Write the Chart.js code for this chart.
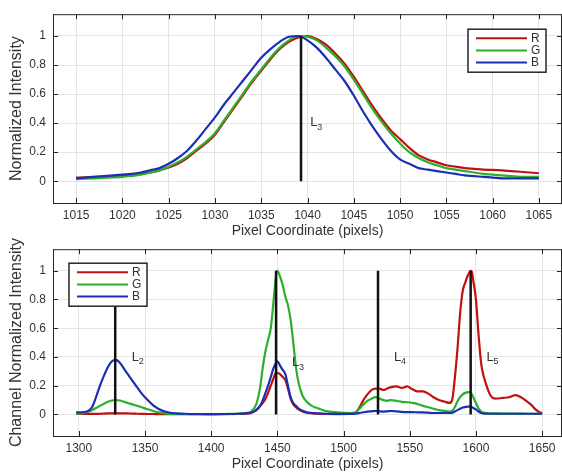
<!DOCTYPE html>
<html>
<head>
<meta charset="utf-8">
<script src="https://cdn.jsdelivr.net/npm/chart.js@4/dist/chart.umd.min.js"></script>
<style>
  html, body { margin: 0; padding: 0; background: #fff; }
  #wrap { position: relative; width: 562px; height: 473px; overflow: hidden; }
  #topChart { position: absolute; left: 0; top: 0; }
  #bottomChart { position: absolute; left: 0; top: 235px; }
</style>
</head>
<body>
<div id="wrap">
  <canvas id="topChart" width="562" height="240"></canvas>
  <canvas id="bottomChart" width="562" height="238"></canvas>
</div>
<script>
// ---- top plot data (single line profile around pixel 1039) ----
const topX = [1015,1016,1017,1018,1019,1020,1021,1022,1023,1024,1025,1026,1027,1028,1029,1030,1031,1032,1033,1034,1035,1036,1037,1038,1039,1040,1041,1042,1043,1044,1045,1046,1047,1048,1049,1050,1051,1052,1053,1054,1055,1056,1057,1058,1059,1060,1061,1062,1063,1064,1065];
const topR = [0.025,0.027,0.03,0.032,0.035,0.04,0.045,0.05,0.06,0.075,0.095,0.12,0.16,0.21,0.26,0.32,0.41,0.5,0.59,0.68,0.76,0.84,0.91,0.96,0.99,1.0,0.98,0.94,0.88,0.81,0.72,0.62,0.52,0.43,0.35,0.29,0.23,0.18,0.15,0.13,0.11,0.1,0.09,0.085,0.08,0.078,0.075,0.07,0.065,0.06,0.055];
const topG = [0.015,0.017,0.02,0.023,0.026,0.03,0.037,0.045,0.058,0.075,0.1,0.13,0.17,0.22,0.27,0.33,0.42,0.51,0.6,0.69,0.77,0.85,0.92,0.97,1.0,0.995,0.97,0.92,0.86,0.79,0.7,0.6,0.5,0.41,0.33,0.26,0.2,0.16,0.13,0.11,0.09,0.08,0.07,0.06,0.05,0.045,0.04,0.035,0.03,0.03,0.03];
const topB = [0.02,0.025,0.03,0.035,0.04,0.045,0.05,0.06,0.075,0.09,0.12,0.16,0.21,0.28,0.36,0.44,0.53,0.61,0.69,0.77,0.85,0.91,0.96,0.995,1.0,0.97,0.92,0.85,0.77,0.69,0.59,0.48,0.38,0.29,0.21,0.15,0.12,0.09,0.08,0.07,0.06,0.05,0.04,0.035,0.03,0.025,0.02,0.02,0.02,0.02,0.02];
const topMarkX = [1039.3];
const topMarkNames = ['3'];
const topLabelX = [1040.3];
const topLabelY = [0.405];
const topXTicks = [1015,1020,1025,1030,1035,1040,1045,1050,1055,1060,1065];

// ---- bottom plot data (channel normalized, four lines) ----
const botX = [1298,1302,1306,1310,1313,1316,1319,1322,1325,1328,1331,1334,1337,1340,1344,1348,1352,1356,1360,1365,1370,1380,1390,1400,1410,1420,1426,1430,1434,1437,1439,1441,1443,1445,1447,1449,1450,1452,1454,1456,1458,1460,1462,1464,1466,1469,1472,1476,1480,1486,1495,1505,1509,1512,1515,1518,1521,1524,1527,1530,1533,1536,1540,1544,1548,1552,1556,1560,1564,1568,1572,1576,1580,1582,1584,1586,1588,1590,1592,1594,1596,1597,1598,1600,1602,1604,1606,1608,1610,1612,1615,1620,1625,1630,1634,1638,1642,1645,1648,1650];
const botR = [0.005,0.003,0.003,0.004,0.004,0.005,0.006,0.007,0.008,0.008,0.008,0.007,0.007,0.006,0.005,0.004,0.003,0.003,0.002,0.002,0.002,0.002,0.002,0.002,0.002,0.003,0.005,0.01,0.03,0.06,0.08,0.11,0.15,0.2,0.25,0.29,0.29,0.28,0.26,0.24,0.18,0.11,0.07,0.05,0.035,0.02,0.012,0.008,0.005,0.003,0.002,0.003,0.01,0.05,0.1,0.14,0.17,0.18,0.18,0.17,0.18,0.19,0.195,0.185,0.195,0.175,0.16,0.16,0.145,0.12,0.1,0.09,0.08,0.1,0.25,0.45,0.7,0.86,0.92,0.97,1.0,0.99,0.93,0.8,0.55,0.35,0.26,0.2,0.15,0.12,0.11,0.115,0.12,0.135,0.12,0.095,0.065,0.035,0.015,0.01];
const botG = [0.005,0.008,0.015,0.03,0.045,0.06,0.075,0.088,0.097,0.1,0.097,0.088,0.08,0.072,0.06,0.048,0.036,0.025,0.015,0.008,0.004,0.003,0.002,0.002,0.003,0.005,0.01,0.02,0.07,0.19,0.33,0.44,0.52,0.6,0.78,0.97,1.0,0.96,0.9,0.82,0.76,0.66,0.5,0.33,0.22,0.13,0.09,0.06,0.045,0.025,0.015,0.01,0.015,0.04,0.07,0.095,0.11,0.12,0.11,0.1,0.095,0.1,0.095,0.088,0.085,0.08,0.072,0.06,0.05,0.04,0.03,0.025,0.02,0.025,0.05,0.09,0.12,0.14,0.15,0.155,0.15,0.14,0.12,0.08,0.04,0.02,0.012,0.01,0.008,0.008,0.007,0.006,0.006,0.006,0.006,0.005,0.005,0.005,0.005,0.005];
const botB = [0.015,0.015,0.02,0.05,0.12,0.2,0.27,0.33,0.37,0.38,0.36,0.32,0.28,0.24,0.19,0.14,0.1,0.065,0.04,0.02,0.01,0.005,0.003,0.002,0.003,0.005,0.008,0.012,0.03,0.06,0.1,0.15,0.2,0.26,0.32,0.36,0.37,0.34,0.31,0.28,0.2,0.12,0.08,0.06,0.04,0.025,0.015,0.01,0.008,0.005,0.004,0.004,0.006,0.01,0.015,0.02,0.022,0.024,0.022,0.02,0.022,0.024,0.022,0.018,0.016,0.016,0.015,0.014,0.012,0.01,0.01,0.01,0.01,0.012,0.02,0.03,0.04,0.048,0.052,0.055,0.055,0.05,0.045,0.035,0.02,0.01,0.006,0.005,0.005,0.005,0.005,0.005,0.005,0.005,0.005,0.005,0.005,0.005,0.005,0.005];
const botMarkX = [1327.5,1449,1526,1596];
const botMarkNames = ['2','3','4','5'];
const botLabelX = [1340,1461,1538,1608];
const botLabelY = [0.40,0.36,0.40,0.40];
const botXTicks = [1300,1350,1400,1450,1500,1550,1600,1650];

const yTicks = [0,0.2,0.4,0.6,0.8,1];

const FONT = '"Liberation Sans", Arial, Helvetica, sans-serif';
const TXT = '#333333';
const red = '#c01010', green = '#2bb02b', blue = '#1c2fb4';

function pts(xs, ys) { return xs.map((x, i) => ({ x: x, y: ys[i] })); }

function curve(label, color, xs, ys, order) {
  return {
    label: label, data: pts(xs, ys), borderColor: color, backgroundColor: color,
    borderWidth: 2.2, pointRadius: 0, cubicInterpolationMode: 'monotone', order: order
  };
}

function markers(xs) {
  return xs.map(x => ({
    label: '', data: [{ x: x, y: 0 }, { x: x, y: 1 }],
    borderColor: '#111', borderWidth: 2.5, pointRadius: 0, order: 0
  }));
}

// inward tick marks + top/right frame, like the original figure
const frameTicks = {
  id: 'frameTicks',
  afterDatasetsDraw(chart) {
    const ctx = chart.ctx, a = chart.chartArea;
    const xs = chart.scales.x, ys = chart.scales.y;
    ctx.save();
    ctx.strokeStyle = '#262626';
    ctx.lineWidth = 1;
    ctx.beginPath();
    ctx.moveTo(a.left, a.top + 0.5); ctx.lineTo(a.right, a.top + 0.5);
    ctx.moveTo(a.right - 0.5, a.top); ctx.lineTo(a.right - 0.5, a.bottom);
    xs.ticks.forEach(t => {
      const px = Math.round(xs.getPixelForValue(t.value)) + 0.5;
      ctx.moveTo(px, a.bottom); ctx.lineTo(px, a.bottom - 5);
      ctx.moveTo(px, a.top); ctx.lineTo(px, a.top + 5);
    });
    ys.ticks.forEach(t => {
      const py = Math.round(ys.getPixelForValue(t.value)) + 0.5;
      ctx.moveTo(a.left, py); ctx.lineTo(a.left + 5, py);
      ctx.moveTo(a.right, py); ctx.lineTo(a.right - 5, py);
    });
    ctx.stroke();
    ctx.restore();
  }
};

// L labels with subscript numbers
const lineNames = {
  id: 'lineNames',
  afterDatasetsDraw(chart, args, opts) {
    const ctx = chart.ctx, xs = chart.scales.x, ys = chart.scales.y;
    ctx.save();
    ctx.fillStyle = TXT;
    ctx.textBaseline = 'middle';
    opts.names.forEach((n, i) => {
      const px = xs.getPixelForValue(opts.xs[i]);
      const py = ys.getPixelForValue(opts.ys[i]);
      ctx.font = '13px ' + FONT;
      ctx.fillText('L', px, py);
      ctx.font = '9px ' + FONT;
      ctx.fillText(n, px + 7, py + 5);
    });
    ctx.restore();
  }
};

// boxed legend inside the axes
const boxLegend = {
  id: 'boxLegend',
  afterDatasetsDraw(chart, args, opts) {
    const ctx = chart.ctx, a = chart.chartArea;
    const w = 78, h = 43;
    const x0 = opts.side === 'right' ? a.right - opts.dx - w : a.left + opts.dx;
    const y0 = a.top + opts.dy;
    ctx.save();
    ctx.fillStyle = '#fff';
    ctx.fillRect(x0, y0, w, h);
    ctx.strokeStyle = '#262626';
    ctx.lineWidth = 1.5;
    ctx.strokeRect(x0, y0, w, h);
    chart.data.datasets.filter(d => d.label).forEach((d, i) => {
      const y = y0 + 9 + i * 12.2;
      ctx.strokeStyle = d.borderColor;
      ctx.lineWidth = 2;
      ctx.beginPath(); ctx.moveTo(x0 + 8, y); ctx.lineTo(x0 + 59, y); ctx.stroke();
      ctx.fillStyle = TXT;
      ctx.font = '12px ' + FONT;
      ctx.textBaseline = 'middle';
      ctx.fillText(d.label, x0 + 63, y);
    });
    ctx.restore();
  }
};

function makeOptions(cfg) {
  return {
    responsive: false,
    animation: false,
    devicePixelRatio: 1,
    layout: { padding: { top: cfg.padTop, right: 0, left: 0, bottom: 0 } },
    plugins: {
      legend: { display: false },
      tooltip: { enabled: false },
      boxLegend: cfg.legend,
      lineNames: cfg.names
    },
    scales: {
      x: {
        type: 'linear', min: cfg.xMin, max: cfg.xMax,
        afterBuildTicks: s => { s.ticks = cfg.xTicks.map(v => ({ value: v })); },
        afterFit: s => { s.height = 37; },
        ticks: { autoSkip: false, maxRotation: 0, padding: 5, color: TXT, font: { family: FONT, size: 12 }, callback: v => String(v) },
        grid: { color: '#e4e4e4', drawTicks: false },
        border: { display: true, color: '#262626', width: 1 },
        title: { display: true, text: 'Pixel Coordinate (pixels)', color: TXT, font: { family: FONT, size: 14 }, padding: { top: 0, bottom: 0 } }
      },
      y: {
        type: 'linear', min: -0.15, max: 1.15,
        afterBuildTicks: s => { s.ticks = yTicks.map(v => ({ value: v })); },
        afterFit: s => { s.width = 53; },
        ticks: { padding: 7, color: TXT, font: { family: FONT, size: 12 }, callback: v => String(v) },
        grid: { color: '#e4e4e4', drawTicks: false },
        border: { display: true, color: '#262626', width: 1 },
        title: { display: true, text: cfg.yTitle, color: TXT, font: { family: FONT, size: 16 }, padding: { top: 7, bottom: 0 } }
      }
    }
  };
}

new Chart(document.getElementById('topChart'), {
  type: 'line',
  data: {
    datasets: [
      curve('R', red, topX, topR, 3),
      curve('G', green, topX, topG, 2),
      curve('B', blue, topX, topB, 1)
    ].concat(markers(topMarkX))
  },
  options: makeOptions({
    padTop: 14, xMin: 1012.5, xMax: 1067.5, xTicks: topXTicks,
    yTitle: 'Normalized Intensity',
    legend: { side: 'right', dx: 16, dy: 15 },
    names: { names: topMarkNames, xs: topLabelX, ys: topLabelY }
  }),
  plugins: [frameTicks, lineNames, boxLegend]
});

new Chart(document.getElementById('bottomChart'), {
  type: 'line',
  data: {
    datasets: [
      curve('R', red, botX, botR, 3),
      curve('G', green, botX, botG, 2),
      curve('B', blue, botX, botB, 1)
    ].concat(markers(botMarkX))
  },
  options: makeOptions({
    padTop: 14, xMin: 1280.5, xMax: 1665, xTicks: botXTicks,
    yTitle: 'Channel Normalized Intensity',
    legend: { side: 'left', dx: 16, dy: 14 },
    names: { names: botMarkNames, xs: botLabelX, ys: botLabelY }
  }),
  plugins: [frameTicks, lineNames, boxLegend]
});
</script>
</body>
</html>
